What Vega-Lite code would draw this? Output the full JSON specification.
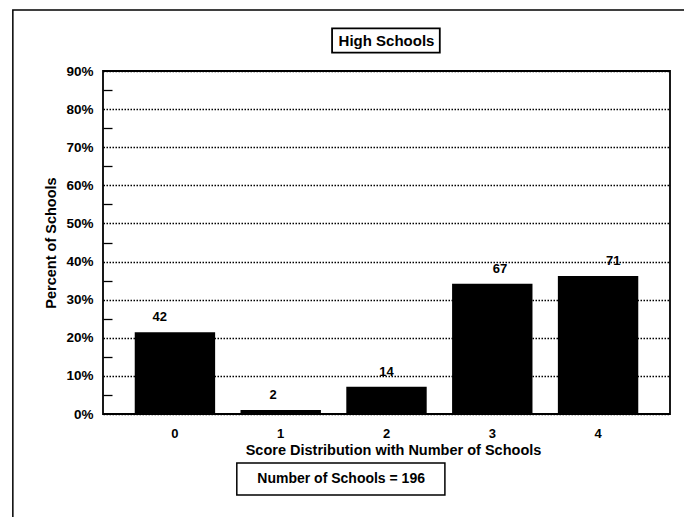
{
  "$schema": "https://vega.github.io/schema/vega-lite/v6.json",
  "width": 567,
  "height": 343,
  "autosize": "none",
  "padding": {"left": 103, "top": 71, "right": 14, "bottom": 103},
  "background": "white",
  "config": {
    "font": "Liberation Sans",
    "view": {"stroke": "black", "strokeWidth": 1.8}
  },
  "datasets": {
    "scores": [
      {"score": "0", "n": 42, "pct": 0.2143},
      {"score": "1", "n": 2, "pct": 0.0102},
      {"score": "2", "n": 14, "pct": 0.0714},
      {"score": "3", "n": 67, "pct": 0.3418},
      {"score": "4", "n": 71, "pct": 0.3622}
    ],
    "title": [{"label": "High Schools"}],
    "note": [{"label": "Number of Schools = 196"}],
    "frame": [{"label": ""}]
  },
  "layer": [
    {
      "data": {"name": "frame"},
      "mark": {"type": "rect", "fill": null, "stroke": "black", "strokeWidth": 1.5},
      "encoding": {
        "x": {"datum": -0.159, "type": "quantitative", "scale": {"domain": [0, 1], "nice": false, "zero": false}, "axis": null},
        "x2": {"datum": 1.2},
        "y": {"datum": 1.06, "type": "quantitative", "scale": {"domain": [0, 0.9], "nice": false}, "axis": null},
        "y2": {"datum": -0.5}
      }
    },
    {
      "data": {"name": "scores"},
      "mark": {"type": "bar", "color": "black"},
      "encoding": {
        "x": {
          "field": "score", "type": "nominal", "sort": null,
          "scale": {"paddingInner": 0.24, "paddingOuter": 0.3},
          "axis": {
            "labelAngle": 0, "ticks": false, "domain": false,
            "labelFontWeight": "bold", "labelFontSize": 13, "labelColor": "black", "labelPadding": 13,
            "title": "Score Distribution with Number of Schools",
            "titleFontSize": 14.5, "titleFontWeight": "bold", "titleColor": "black", "titlePadding": 3,
            "titleX": 290
          }
        },
        "y": {
          "field": "pct", "type": "quantitative",
          "scale": {"domain": [0, 0.9], "nice": false},
          "axis": {
            "values": [0, 0.05, 0.1, 0.15, 0.2, 0.25, 0.3, 0.35, 0.4, 0.45, 0.5, 0.55, 0.6, 0.65, 0.7, 0.75, 0.8, 0.85, 0.9],
            "format": ".0%",
            "labelExpr": "round(datum.value*100) % 10 == 0 ? datum.label : ''",
            "grid": true, "gridDash": [1.5, 1.5], "gridColor": "black", "gridWidth": 1.5,
            "gridOpacity": {"condition": {"test": "round(datum.value*100) % 10 == 0", "value": 1}, "value": 0},
            "tickSize": {"condition": {"test": "round(datum.value*100) % 10 != 0", "value": -9}, "value": 0},
            "tickColor": "black", "tickWidth": 1.3,
            "domain": false,
            "labelFontWeight": "bold", "labelFontSize": 13.5, "labelColor": "black", "labelPadding": 10,
            "title": "Percent of Schools",
            "titleFontSize": 14.5, "titleFontWeight": "bold", "titleColor": "black", "titlePadding": 7
          }
        }
      }
    },
    {
      "data": {"name": "scores"},
      "mark": {"type": "text", "baseline": "bottom", "dy": -8, "fontWeight": "bold", "fontSize": 13, "color": "black"},
      "encoding": {
        "x": {"field": "score", "type": "nominal", "sort": null, "scale": {"paddingInner": 0.24, "paddingOuter": 0.3}, "axis": null},
        "y": {"field": "pct", "type": "quantitative", "scale": {"domain": [0, 0.9], "nice": false}, "axis": null},
        "text": {"field": "n"}
      }
    },
    {
      "data": {"name": "title"},
      "mark": {"type": "rect", "fill": "white", "stroke": "black", "strokeWidth": 1.8},
      "encoding": {
        "x": {"datum": 0.404, "type": "quantitative", "scale": {"domain": [0, 1], "nice": false, "zero": false}, "axis": null},
        "x2": {"datum": 0.594},
        "y": {"datum": 1.012, "type": "quantitative", "scale": {"domain": [0, 0.9], "nice": false}, "axis": null},
        "y2": {"datum": 0.948}
      }
    },
    {
      "data": {"name": "title"},
      "mark": {"type": "text", "fontWeight": "bold", "fontSize": 15, "color": "black", "baseline": "middle", "align": "center"},
      "encoding": {
        "x": {"datum": 0.5, "type": "quantitative", "scale": {"domain": [0, 1], "nice": false, "zero": false}, "axis": null},
        "y": {"datum": 0.98, "type": "quantitative", "scale": {"domain": [0, 0.9], "nice": false}, "axis": null},
        "text": {"field": "label"}
      }
    },
    {
      "data": {"name": "note"},
      "mark": {"type": "rect", "fill": "white", "stroke": "black", "strokeWidth": 1.5},
      "encoding": {
        "x": {"datum": 0.236, "type": "quantitative", "scale": {"domain": [0, 1], "nice": false, "zero": false}, "axis": null},
        "x2": {"datum": 0.603},
        "y": {"datum": -0.1286, "type": "quantitative", "scale": {"domain": [0, 0.9], "nice": false}, "axis": null},
        "y2": {"datum": -0.2125}
      }
    },
    {
      "data": {"name": "note"},
      "mark": {"type": "text", "fontWeight": "bold", "fontSize": 14, "color": "black", "baseline": "middle", "align": "center"},
      "encoding": {
        "x": {"datum": 0.42, "type": "quantitative", "scale": {"domain": [0, 1], "nice": false, "zero": false}, "axis": null},
        "y": {"datum": -0.171, "type": "quantitative", "scale": {"domain": [0, 0.9], "nice": false}, "axis": null},
        "text": {"field": "label"}
      }
    }
  ],
  "resolve": {"scale": {"x": "independent", "y": "independent"}}
}
